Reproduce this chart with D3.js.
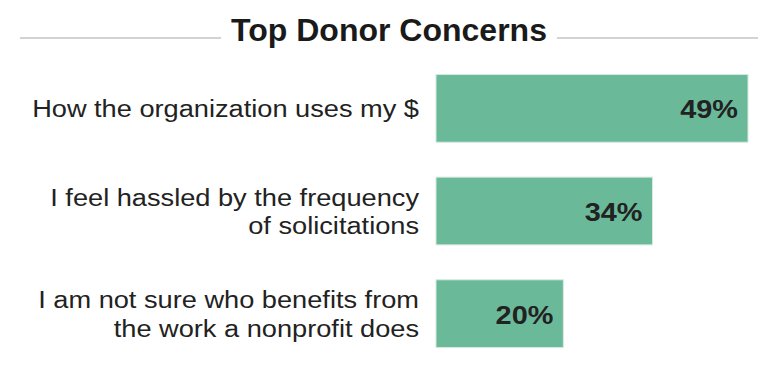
<!DOCTYPE html>
<html>
<head>
<meta charset="utf-8">
<script src="https://cdn.jsdelivr.net/npm/d3@7"></script>
<style>
  body { margin: 0; background: #fff; }
  text { font-family: "Liberation Sans", Arial, sans-serif; }
</style>
</head>
<body>
<div id="chart"></div>
<script>
  var width = 766, height = 368;

  // data
  var categories = [
    ["How the organization uses my $"],
    ["I feel hassled by the frequency", "of solicitations"],
    ["I am not sure who benefits from", "the work a nonprofit does"]
  ];
  var values = [49, 34, 20];
  var title = "Top Donor Concerns";

  var svg = d3.select("#chart").append("svg")
    .attr("width", width)
    .attr("height", height);

  var x = d3.scaleLinear()
    .domain([0, 49])
    .range([436, 748]);

  var y = d3.scaleBand()
    .domain(d3.range(values.length))
    .range([57, 365])
    .paddingInner(0.34)
    .paddingOuter(0.17);

  var stretch = 1.11; // reference text is a bit wide

  // title with rules either side
  var t = svg.append("text")
    .attr("x", 389)
    .attr("y", 41)
    .attr("text-anchor", "middle")
    .style("font-size", "32px")
    .style("font-weight", "bold")
    .style("fill", "#1a1a1a")
    .text(title);

  var bb = t.node().getBBox();
  svg.append("line")
    .attr("x1", 20).attr("x2", bb.x - 10)
    .attr("y1", 38).attr("y2", 38)
    .style("stroke", "#c4c4c4").style("stroke-width", 1.5);
  svg.append("line")
    .attr("x1", bb.x + bb.width + 10).attr("x2", 758)
    .attr("y1", 38).attr("y2", 38)
    .style("stroke", "#c4c4c4").style("stroke-width", 1.5);

  var rows = svg.selectAll("g.row").data(values).enter().append("g")
    .attr("class", "row");

  rows.append("rect")
    .attr("x", x(0))
    .attr("y", function(d, i) { return y(i); })
    .attr("width", function(d) { return x(d) - x(0); })
    .attr("height", y.bandwidth())
    .style("fill", "#6aba9a")
    .style("stroke", "#d8e8e0")
    .style("stroke-width", 1);

  rows.append("text")
    .attr("transform", function(d, i) {
      return "translate(" + (x(d) - 10) + "," + (y(i) + y.bandwidth() / 2 + 10) + ") scale(" + stretch + ",1)";
    })
    .attr("text-anchor", "end")
    .style("font-size", "26px")
    .style("font-weight", "bold")
    .style("fill", "#222")
    .text(function(d) { return d + "%"; });

  // category labels
  var lineH = 29;
  rows.append("text")
    .attr("text-anchor", "end")
    .attr("transform", function(d, i) {
      return "translate(419," + (y(i) + y.bandwidth() / 2) + ") scale(" + stretch + ",1)";
    })
    .style("font-size", "24.5px")
    .style("fill", "#222")
    .each(function(d, i) {
      var lines = categories[i];
      var start = 9 - (lines.length - 1) * lineH / 2;
      d3.select(this).selectAll("tspan").data(lines).enter().append("tspan")
        .attr("x", 0)
        .attr("y", function(l, j) { return start + j * lineH; })
        .text(function(l) { return l; });
    });
</script>
</body>
</html>
